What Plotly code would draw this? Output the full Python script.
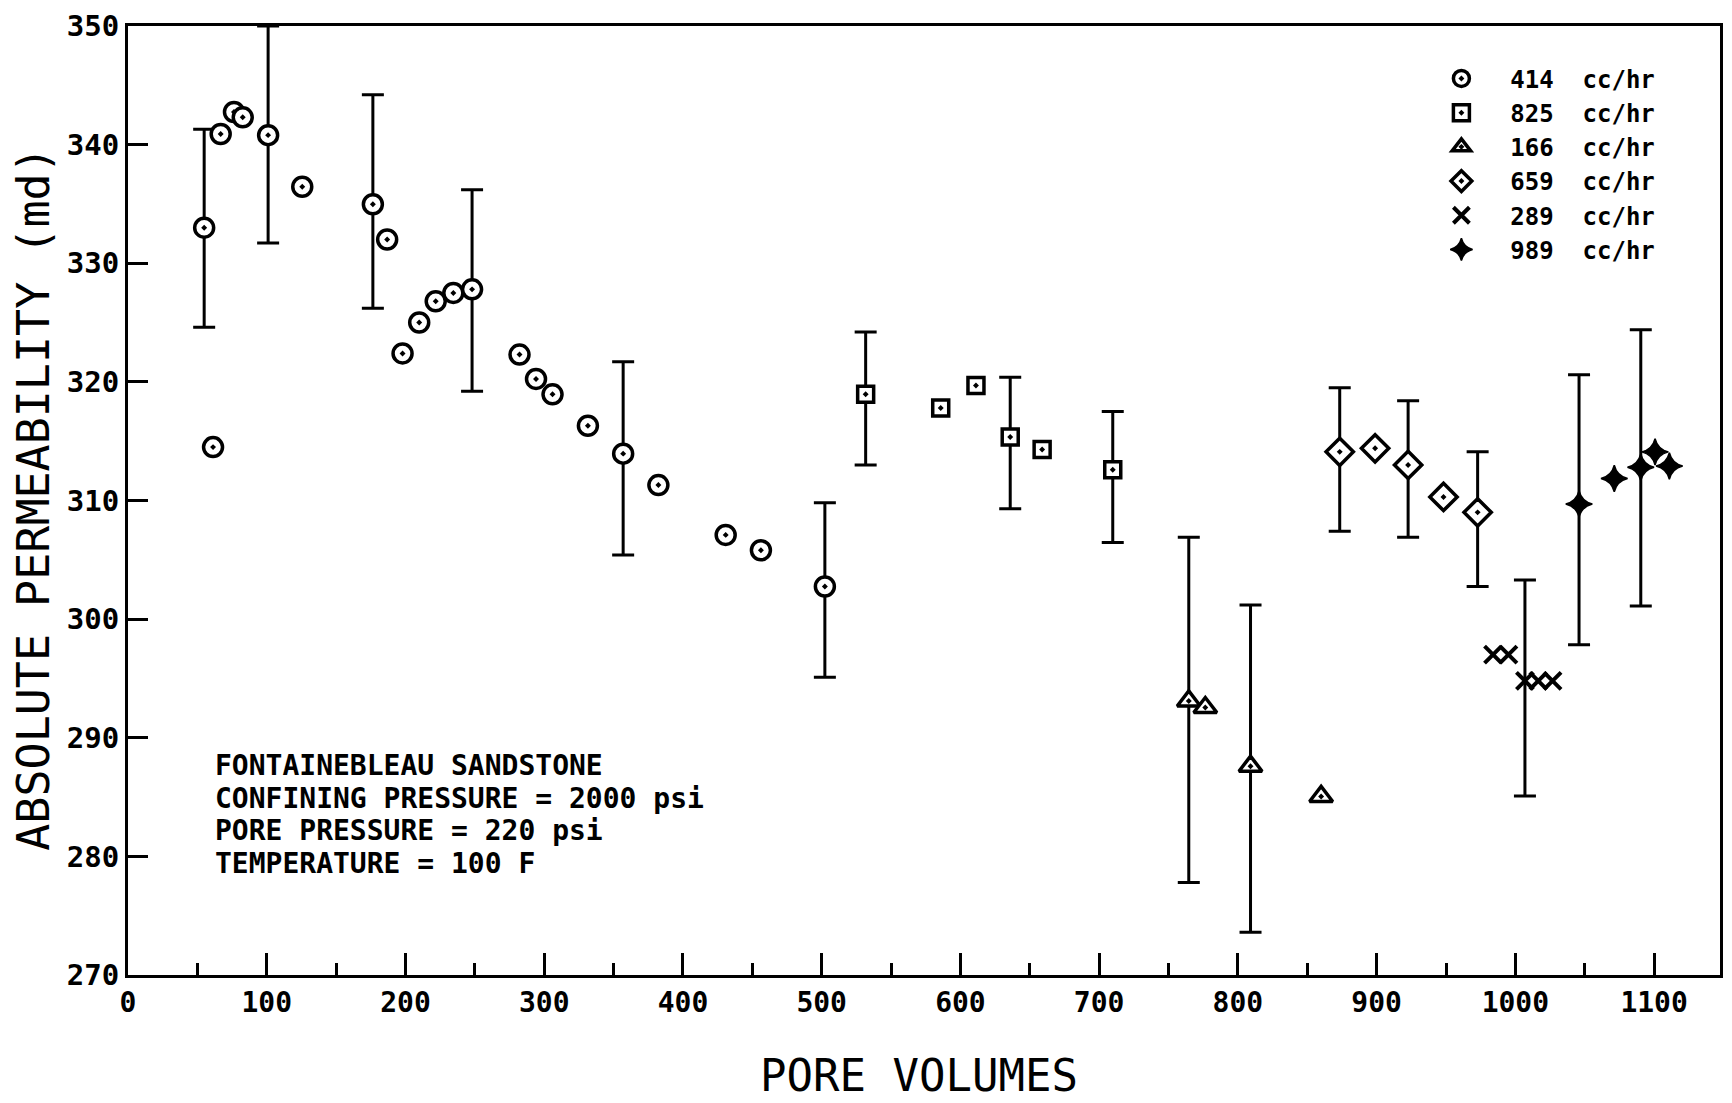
import plotly.graph_objects as go

# ---------------- data ----------------
# 414 cc/hr  (circles)
c414_x = [54.9, 61.3, 66.8, 76.4, 82.7, 101.0, 125.6, 176.5, 186.8, 197.9, 209.9, 221.8,
          234.5, 248.0, 282.2, 294.1, 306.0, 331.5, 356.9, 382.3, 430.8, 456.2, 502.3]
c414_y = [333.0, 314.5, 340.9, 342.75, 342.3, 340.8, 336.45, 334.97, 332.0, 322.4, 325.0, 326.8,
          327.5, 327.8, 322.3, 320.25, 318.95, 316.3, 313.95, 311.3, 307.1, 305.8, 302.75]
c414_hi = [341.3, None, None, None, None, 350.0, None, 344.2, None, None, None, None,
           None, 336.2, None, None, None, None, 321.7, None, None, None, 309.8]
c414_lo = [324.6, None, None, None, None, 331.7, None, 326.2, None, None, None, None,
           None, 319.2, None, None, None, None, 305.4, None, None, None, 295.1]

# 825 cc/hr  (squares)
c825_x = [531.7, 585.8, 611.2, 635.9, 658.9, 709.8]
c825_y = [318.95, 317.8, 319.7, 315.35, 314.3, 312.6]
c825_hi = [324.2, None, None, 320.4, None, 317.5]
c825_lo = [313.0, None, None, 309.3, None, 306.45]

# 166 cc/hr  (triangles)
c166_x = [764.6, 776.5, 809.1, 860.0]
c166_y = [293.1, 292.55, 287.6, 285.05]
c166_hi = [306.9, None, 301.2, None]
c166_lo = [277.8, None, 273.6, None]

# 659 cc/hr  (diamonds)
c659_x = [873.4, 898.9, 922.7, 948.2, 972.8]
c659_y = [314.1, 314.4, 313.0, 310.3, 309.0]
c659_hi = [319.5, None, 318.4, None, 314.1]
c659_lo = [307.4, None, 306.9, None, 302.75]

# 289 cc/hr  (crosses)
c289_x = [983.9, 995.0, 1006.9, 1016.5, 1026.8]
c289_y = [297.0, 297.0, 294.8, 294.8, 294.8]
c289_hi = [None, None, 303.3, None, None]
c289_lo = [None, None, 285.1, None, None]

# 989 cc/hr  (four-point stars)
c989_x = [1045.9, 1071.3, 1090.4, 1100.7, 1111.0]
c989_y = [309.7, 311.85, 312.8, 314.1, 312.9]
c989_hi = [320.6, None, 324.4, None, None]
c989_lo = [297.85, None, 301.1, None, None]

series_names = ["414 cc/hr", "825 cc/hr", "166 cc/hr", "659 cc/hr", "289 cc/hr", "989 cc/hr"]

x_ticks = [0, 100, 200, 300, 400, 500, 600, 700, 800, 900, 1000, 1100]
y_ticks = [270, 280, 290, 300, 310, 320, 330, 340, 350]

note_lines = ["FONTAINEBLEAU SANDSTONE",
              "CONFINING PRESSURE = 2000 psi",
              "PORE PRESSURE = 220 psi",
              "TEMPERATURE = 100 F"]
note_y = [287.7, 284.92, 282.14, 279.36]
note_x = 62.0

# ---------------- styling ----------------
MONO = "DejaVu Sans Mono"
styles = [
    dict(symbol="circle-dot", size=19, color="white", line=dict(color="black", width=3.5)),
    dict(symbol="square-dot", size=16, color="white", line=dict(color="black", width=3.5)),
    dict(symbol="triangle-up-dot", size=20, color="white", line=dict(color="black", width=3.5)),
    dict(symbol="diamond-dot", size=21, color="white", line=dict(color="black", width=3.5)),
    dict(symbol="x-thin-open", size=17, color="black", line=dict(color="black", width=4)),
    dict(symbol="star-diamond", size=19, color="black", line=dict(color="black", width=1.5)),
]

series = [
    (c414_x, c414_y, c414_hi, c414_lo),
    (c825_x, c825_y, c825_hi, c825_lo),
    (c166_x, c166_y, c166_hi, c166_lo),
    (c659_x, c659_y, c659_hi, c659_lo),
    (c289_x, c289_y, c289_hi, c289_lo),
    (c989_x, c989_y, c989_hi, c989_lo),
]

fig = go.Figure()

# error bars first (under the markers)
for (xs, ys, his, los) in series:
    ex, ey, ep, em = [], [], [], []
    for x, y, h, l in zip(xs, ys, his, los):
        if h is not None:
            ex.append(x)
            ey.append(y)
            ep.append(h - y)
            em.append(y - l)
    if ex:
        fig.add_trace(go.Scatter(
            x=ex, y=ey, mode="markers",
            marker=dict(size=1, color="rgba(0,0,0,0)"),
            error_y=dict(type="data", array=ep, arrayminus=em, symmetric=False,
                         color="black", thickness=3, width=11),
            showlegend=False, hoverinfo="skip", cliponaxis=False))

for (xs, ys, _, _), name, st in zip(series, series_names, styles):
    num, unit = name.split(" ")
    label = "\u00a0\u00a0" + num + "\u00a0\u00a0" + unit
    fig.add_trace(go.Scatter(x=xs, y=ys, mode="markers", name=label,
                             marker=st, cliponaxis=False))

for txt, yy in zip(note_lines, note_y):
    fig.add_annotation(x=note_x, y=yy, xref="x", yref="y", text=txt, showarrow=False,
                       xanchor="left", yanchor="middle", borderpad=0,
                       font=dict(family=MONO, size=28, color="black", weight="bold"))

# axis titles
fig.add_annotation(x=0.497, y=-0.1059, xref="paper", yref="paper", text="PORE VOLUMES",
                   showarrow=False, xanchor="center", yanchor="middle",
                   font=dict(family=MONO, size=44, color="black"))
fig.add_annotation(x=-0.0596, y=0.502, xref="paper", yref="paper",
                   text="ABSOLUTE PERMEABILITY (md)", textangle=-90,
                   showarrow=False, xanchor="center", yanchor="middle",
                   font=dict(family=MONO, size=45, color="black"))

fig.update_layout(
    width=1732, height=1103,
    margin=dict(l=128, r=9, t=21, b=128),
    paper_bgcolor="white", plot_bgcolor="white",
    showlegend=True,
    legend=dict(x=0.825, y=0.968, xanchor="left", yanchor="top",
                bgcolor="rgba(0,0,0,0)", borderwidth=0,
                font=dict(family=MONO, size=24, color="black", weight="bold"),
                itemsizing="trace"),
    xaxis=dict(range=[0, 1147.5], tickvals=x_ticks, ticktext=[str(v) for v in x_ticks],
               showgrid=False, zeroline=False, showline=True, linecolor="black",
               linewidth=3, mirror=True, ticks="inside", ticklen=22, tickwidth=3,
               tickcolor="black",
               minor=dict(dtick=50, tick0=0, ticks="inside", ticklen=12, tickwidth=3,
                          tickcolor="black", showgrid=False),
               tickfont=dict(family=MONO, size=28, color="black", weight="bold")),
    yaxis=dict(range=[270, 350], tickvals=y_ticks, ticktext=[str(v) for v in y_ticks],
               showgrid=False, zeroline=False, showline=True, linecolor="black",
               linewidth=3, mirror=True, ticks="inside", ticklen=20, tickwidth=3,
               tickcolor="black",
               tickfont=dict(family=MONO, size=29, color="black", weight="bold")),
)

fig.write_html("out.html")
